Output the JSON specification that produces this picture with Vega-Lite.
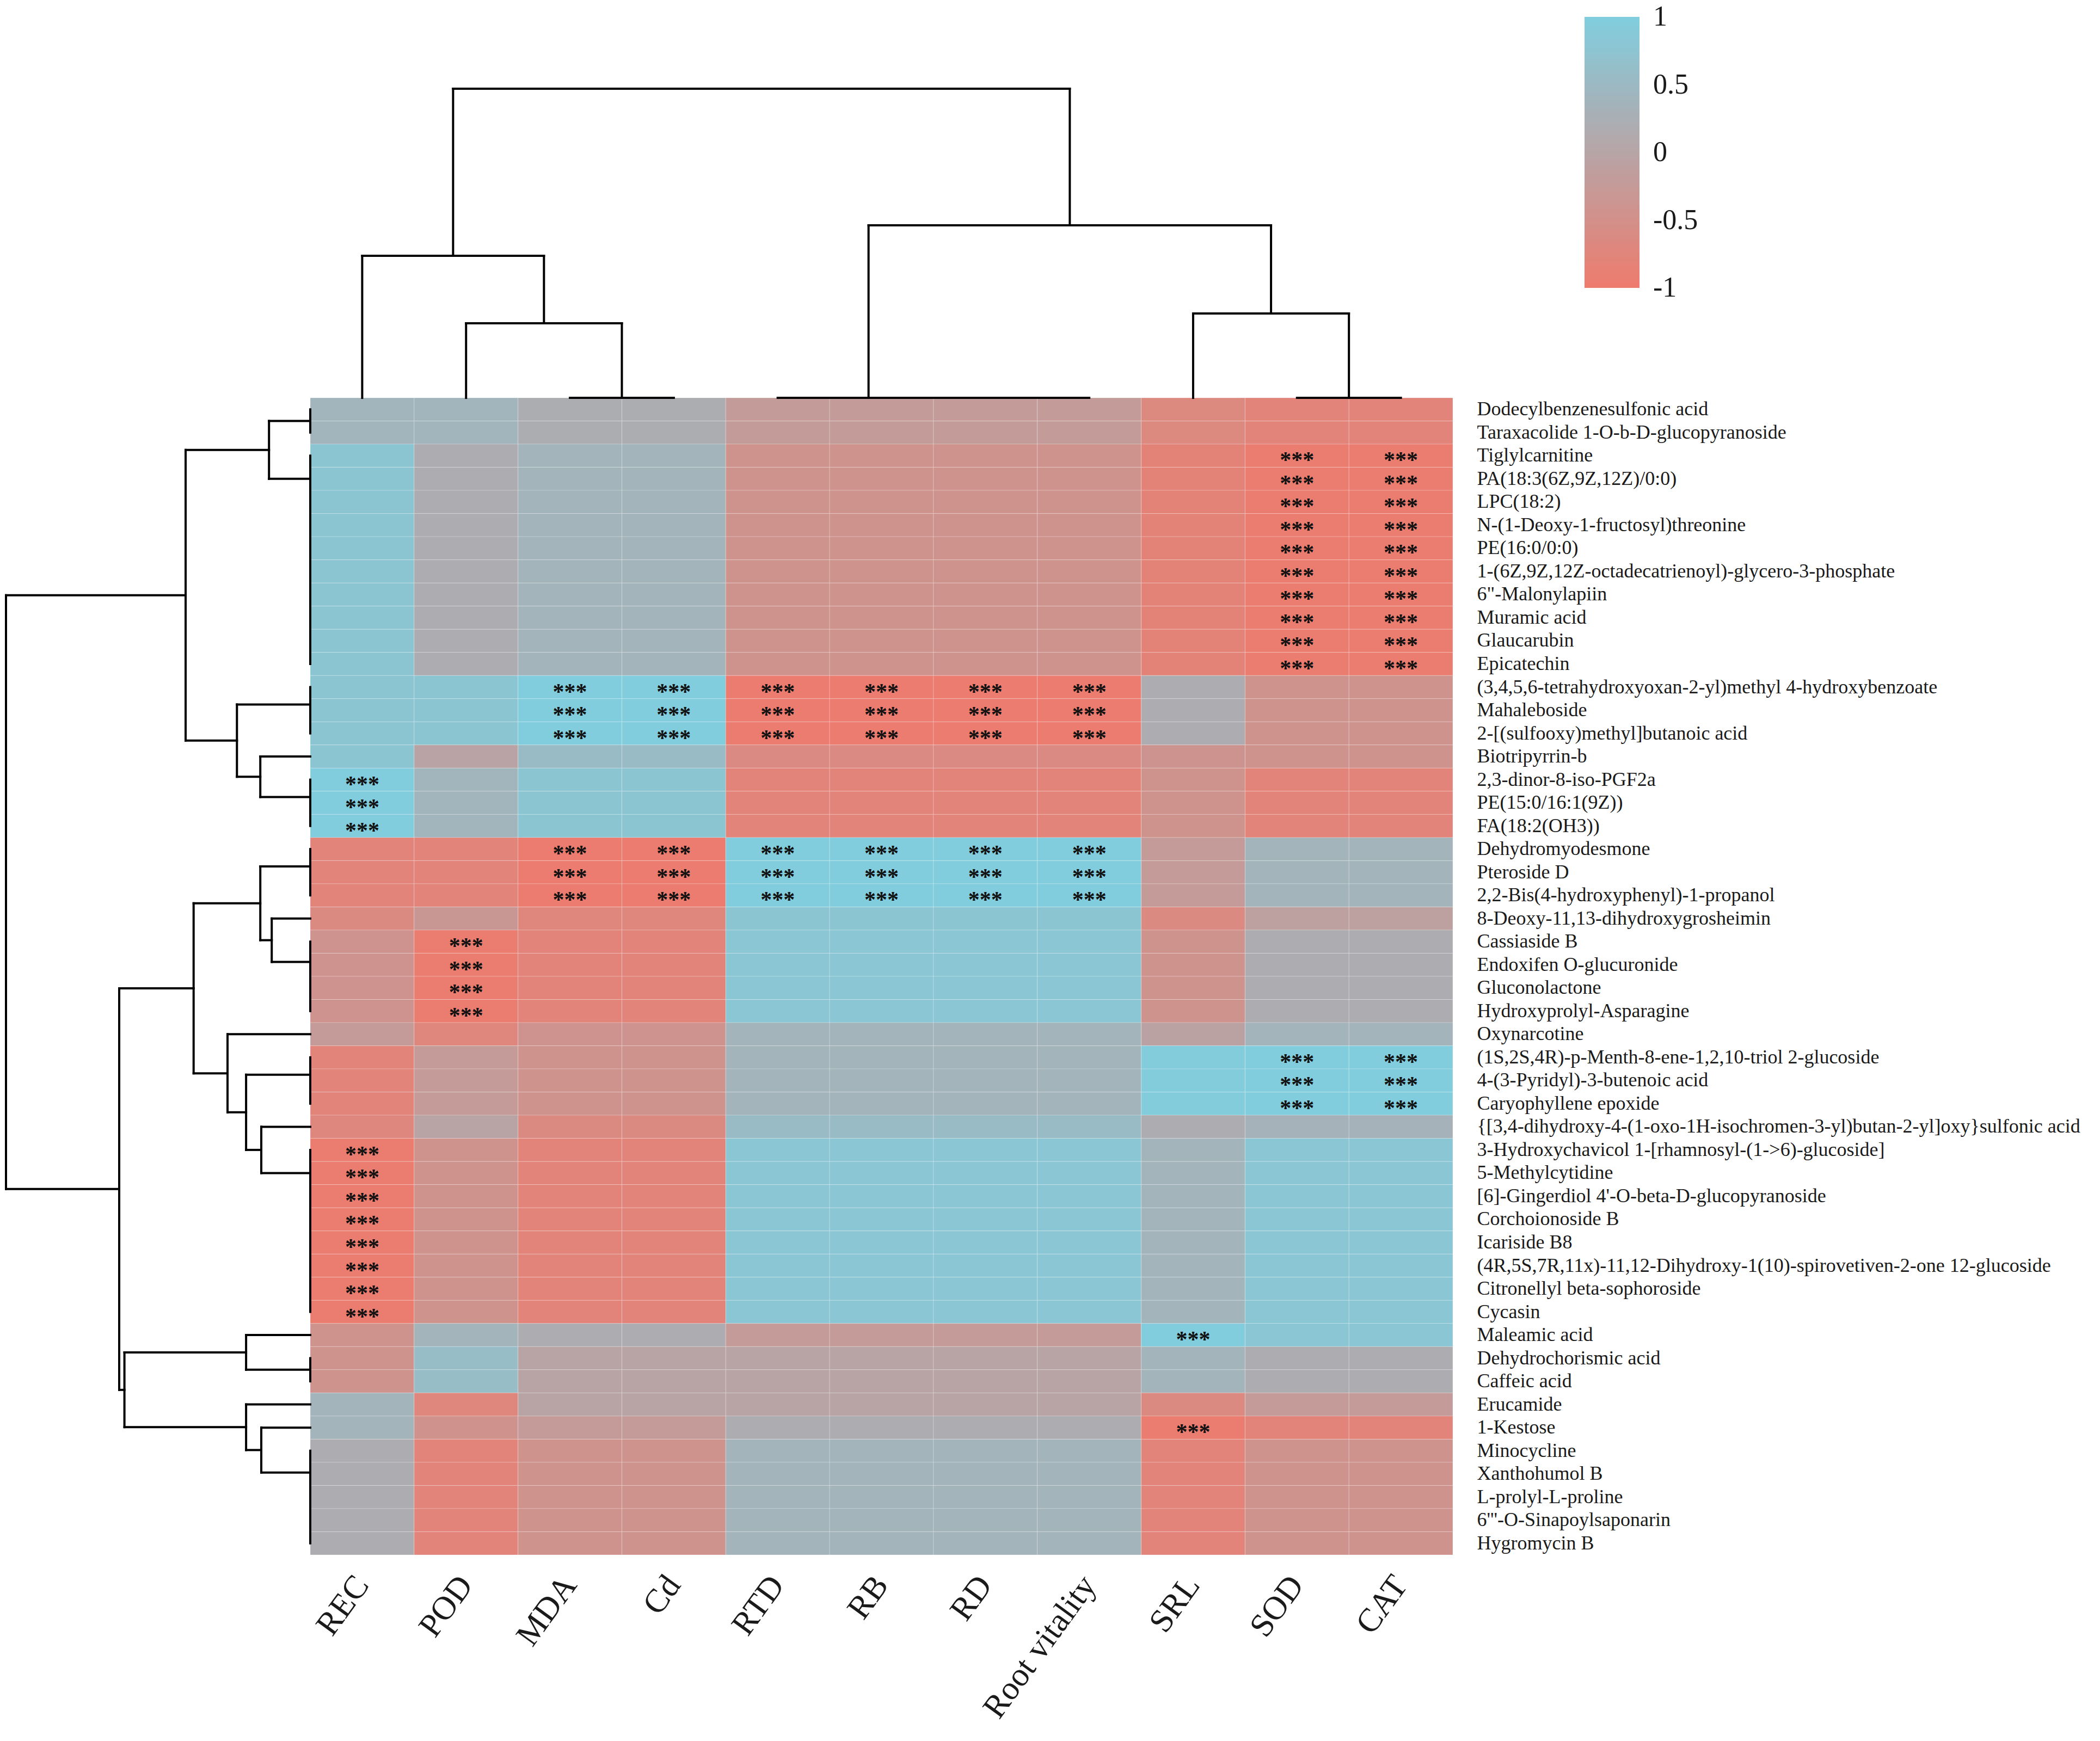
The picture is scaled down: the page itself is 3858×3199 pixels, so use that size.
{
"$schema": "https://vega.github.io/schema/vega-lite/v6.json",
"width": 2099,
"height": 2126,
"autosize": {"type": "none"},
"padding": {"left": 570, "top": 731, "right": 1189, "bottom": 342},
"background": "#ffffff",
"config": {"view": {"stroke": null}, "font": "Liberation Serif"},
"datasets": {
"cells": [
{"m":"Dodecylbenzenesulfonic acid","REC":0.38,"POD":0.38,"MDA":0.2,"Cd":0.2,"RTD":-0.22,"RB":-0.22,"RD":-0.22,"Root vitality":-0.22,"SRL":-0.67,"SOD":-0.78,"CAT":-0.78},
{"m":"Taraxacolide 1-O-b-D-glucopyranoside","REC":0.38,"POD":0.38,"MDA":0.2,"Cd":0.2,"RTD":-0.22,"RB":-0.22,"RD":-0.22,"Root vitality":-0.22,"SRL":-0.67,"SOD":-0.78,"CAT":-0.78},
{"m":"Tiglylcarnitine","REC":0.78,"POD":0.18,"MDA":0.37,"Cd":0.37,"RTD":-0.43,"RB":-0.43,"RD":-0.43,"Root vitality":-0.43,"SRL":-0.8,"SOD":-0.95,"CAT":-0.95},
{"m":"PA(18:3(6Z,9Z,12Z)/0:0)","REC":0.78,"POD":0.18,"MDA":0.37,"Cd":0.37,"RTD":-0.43,"RB":-0.43,"RD":-0.43,"Root vitality":-0.43,"SRL":-0.8,"SOD":-0.95,"CAT":-0.95},
{"m":"LPC(18:2)","REC":0.78,"POD":0.18,"MDA":0.37,"Cd":0.37,"RTD":-0.43,"RB":-0.43,"RD":-0.43,"Root vitality":-0.43,"SRL":-0.8,"SOD":-0.95,"CAT":-0.95},
{"m":"N-(1-Deoxy-1-fructosyl)threonine","REC":0.78,"POD":0.18,"MDA":0.37,"Cd":0.37,"RTD":-0.43,"RB":-0.43,"RD":-0.43,"Root vitality":-0.43,"SRL":-0.8,"SOD":-0.95,"CAT":-0.95},
{"m":"PE(16:0/0:0)","REC":0.78,"POD":0.18,"MDA":0.37,"Cd":0.37,"RTD":-0.43,"RB":-0.43,"RD":-0.43,"Root vitality":-0.43,"SRL":-0.8,"SOD":-0.95,"CAT":-0.95},
{"m":"1-(6Z,9Z,12Z-octadecatrienoyl)-glycero-3-phosphate","REC":0.78,"POD":0.18,"MDA":0.37,"Cd":0.37,"RTD":-0.43,"RB":-0.43,"RD":-0.43,"Root vitality":-0.43,"SRL":-0.8,"SOD":-0.95,"CAT":-0.95},
{"m":"6\"-Malonylapiin","REC":0.78,"POD":0.18,"MDA":0.37,"Cd":0.37,"RTD":-0.43,"RB":-0.43,"RD":-0.43,"Root vitality":-0.43,"SRL":-0.8,"SOD":-0.95,"CAT":-0.95},
{"m":"Muramic acid","REC":0.78,"POD":0.18,"MDA":0.37,"Cd":0.37,"RTD":-0.43,"RB":-0.43,"RD":-0.43,"Root vitality":-0.43,"SRL":-0.8,"SOD":-0.95,"CAT":-0.95},
{"m":"Glaucarubin","REC":0.78,"POD":0.18,"MDA":0.37,"Cd":0.37,"RTD":-0.43,"RB":-0.43,"RD":-0.43,"Root vitality":-0.43,"SRL":-0.8,"SOD":-0.95,"CAT":-0.95},
{"m":"Epicatechin","REC":0.78,"POD":0.18,"MDA":0.37,"Cd":0.37,"RTD":-0.43,"RB":-0.43,"RD":-0.43,"Root vitality":-0.43,"SRL":-0.8,"SOD":-0.95,"CAT":-0.95},
{"m":"(3,4,5,6-tetrahydroxyoxan-2-yl)methyl 4-hydroxybenzoate","REC":0.78,"POD":0.78,"MDA":0.97,"Cd":0.97,"RTD":-0.97,"RB":-0.97,"RD":-0.97,"Root vitality":-0.97,"SRL":0.18,"SOD":-0.43,"CAT":-0.43},
{"m":"Mahaleboside","REC":0.78,"POD":0.78,"MDA":0.97,"Cd":0.97,"RTD":-0.97,"RB":-0.97,"RD":-0.97,"Root vitality":-0.97,"SRL":0.18,"SOD":-0.43,"CAT":-0.43},
{"m":"2-[(sulfooxy)methyl]butanoic acid","REC":0.78,"POD":0.78,"MDA":0.97,"Cd":0.97,"RTD":-0.97,"RB":-0.97,"RD":-0.97,"Root vitality":-0.97,"SRL":0.18,"SOD":-0.43,"CAT":-0.43},
{"m":"Biotripyrrin-b","REC":0.78,"POD":-0.03,"MDA":0.55,"Cd":0.55,"RTD":-0.63,"RB":-0.63,"RD":-0.63,"Root vitality":-0.63,"SRL":-0.4,"SOD":-0.43,"CAT":-0.43},
{"m":"2,3-dinor-8-iso-PGF2a","REC":0.97,"POD":0.38,"MDA":0.78,"Cd":0.78,"RTD":-0.78,"RB":-0.78,"RD":-0.78,"Root vitality":-0.78,"SRL":-0.43,"SOD":-0.78,"CAT":-0.78},
{"m":"PE(15:0/16:1(9Z))","REC":0.97,"POD":0.38,"MDA":0.78,"Cd":0.78,"RTD":-0.78,"RB":-0.78,"RD":-0.78,"Root vitality":-0.78,"SRL":-0.43,"SOD":-0.78,"CAT":-0.78},
{"m":"FA(18:2(OH3))","REC":0.97,"POD":0.38,"MDA":0.78,"Cd":0.78,"RTD":-0.78,"RB":-0.78,"RD":-0.78,"Root vitality":-0.78,"SRL":-0.43,"SOD":-0.78,"CAT":-0.78},
{"m":"Dehydromyodesmone","REC":-0.78,"POD":-0.78,"MDA":-0.97,"Cd":-0.97,"RTD":0.97,"RB":0.97,"RD":0.97,"Root vitality":0.97,"SRL":-0.24,"SOD":0.37,"CAT":0.37},
{"m":"Pteroside D","REC":-0.78,"POD":-0.78,"MDA":-0.97,"Cd":-0.97,"RTD":0.97,"RB":0.97,"RD":0.97,"Root vitality":0.97,"SRL":-0.24,"SOD":0.37,"CAT":0.37},
{"m":"2,2-Bis(4-hydroxyphenyl)-1-propanol","REC":-0.78,"POD":-0.78,"MDA":-0.97,"Cd":-0.97,"RTD":0.97,"RB":0.97,"RD":0.97,"Root vitality":0.97,"SRL":-0.24,"SOD":0.37,"CAT":0.37},
{"m":"8-Deoxy-11,13-dihydroxygrosheimin","REC":-0.65,"POD":-0.33,"MDA":-0.72,"Cd":-0.72,"RTD":0.78,"RB":0.78,"RD":0.78,"Root vitality":0.78,"SRL":-0.65,"SOD":-0.1,"CAT":-0.1},
{"m":"Cassiaside B","REC":-0.42,"POD":-0.95,"MDA":-0.78,"Cd":-0.78,"RTD":0.8,"RB":0.8,"RD":0.8,"Root vitality":0.8,"SRL":-0.43,"SOD":0.18,"CAT":0.18},
{"m":"Endoxifen O-glucuronide","REC":-0.42,"POD":-0.95,"MDA":-0.78,"Cd":-0.78,"RTD":0.8,"RB":0.8,"RD":0.8,"Root vitality":0.8,"SRL":-0.43,"SOD":0.18,"CAT":0.18},
{"m":"Gluconolactone","REC":-0.42,"POD":-0.95,"MDA":-0.78,"Cd":-0.78,"RTD":0.8,"RB":0.8,"RD":0.8,"Root vitality":0.8,"SRL":-0.43,"SOD":0.18,"CAT":0.18},
{"m":"Hydroxyprolyl-Asparagine","REC":-0.42,"POD":-0.95,"MDA":-0.78,"Cd":-0.78,"RTD":0.8,"RB":0.8,"RD":0.8,"Root vitality":0.8,"SRL":-0.43,"SOD":0.18,"CAT":0.18},
{"m":"Oxynarcotine","REC":-0.24,"POD":-0.72,"MDA":-0.42,"Cd":-0.42,"RTD":0.37,"RB":0.37,"RD":0.37,"Root vitality":0.37,"SRL":-0.05,"SOD":0.37,"CAT":0.37},
{"m":"(1S,2S,4R)-p-Menth-8-ene-1,2,10-triol 2-glucoside","REC":-0.78,"POD":-0.24,"MDA":-0.43,"Cd":-0.43,"RTD":0.37,"RB":0.37,"RD":0.37,"Root vitality":0.37,"SRL":0.95,"SOD":0.97,"CAT":0.97},
{"m":"4-(3-Pyridyl)-3-butenoic acid","REC":-0.78,"POD":-0.24,"MDA":-0.43,"Cd":-0.43,"RTD":0.37,"RB":0.37,"RD":0.37,"Root vitality":0.37,"SRL":0.95,"SOD":0.97,"CAT":0.97},
{"m":"Caryophyllene epoxide","REC":-0.78,"POD":-0.24,"MDA":-0.43,"Cd":-0.43,"RTD":0.37,"RB":0.37,"RD":0.37,"Root vitality":0.37,"SRL":0.95,"SOD":0.97,"CAT":0.97},
{"m":"{[3,4-dihydroxy-4-(1-oxo-1H-isochromen-3-yl)butan-2-yl]oxy}sulfonic acid","REC":-0.7,"POD":-0.02,"MDA":-0.65,"Cd":-0.65,"RTD":0.55,"RB":0.55,"RD":0.55,"Root vitality":0.55,"SRL":0.18,"SOD":0.33,"CAT":0.33},
{"m":"3-Hydroxychavicol 1-[rhamnosyl-(1->6)-glucoside]","REC":-0.95,"POD":-0.43,"MDA":-0.78,"Cd":-0.78,"RTD":0.8,"RB":0.8,"RD":0.8,"Root vitality":0.8,"SRL":0.37,"SOD":0.8,"CAT":0.8},
{"m":"5-Methylcytidine","REC":-0.95,"POD":-0.43,"MDA":-0.78,"Cd":-0.78,"RTD":0.8,"RB":0.8,"RD":0.8,"Root vitality":0.8,"SRL":0.37,"SOD":0.8,"CAT":0.8},
{"m":"[6]-Gingerdiol 4'-O-beta-D-glucopyranoside","REC":-0.95,"POD":-0.43,"MDA":-0.78,"Cd":-0.78,"RTD":0.8,"RB":0.8,"RD":0.8,"Root vitality":0.8,"SRL":0.37,"SOD":0.8,"CAT":0.8},
{"m":"Corchoionoside B","REC":-0.95,"POD":-0.43,"MDA":-0.78,"Cd":-0.78,"RTD":0.8,"RB":0.8,"RD":0.8,"Root vitality":0.8,"SRL":0.37,"SOD":0.8,"CAT":0.8},
{"m":"Icariside B8","REC":-0.95,"POD":-0.43,"MDA":-0.78,"Cd":-0.78,"RTD":0.8,"RB":0.8,"RD":0.8,"Root vitality":0.8,"SRL":0.37,"SOD":0.8,"CAT":0.8},
{"m":"(4R,5S,7R,11x)-11,12-Dihydroxy-1(10)-spirovetiven-2-one 12-glucoside","REC":-0.95,"POD":-0.43,"MDA":-0.78,"Cd":-0.78,"RTD":0.8,"RB":0.8,"RD":0.8,"Root vitality":0.8,"SRL":0.37,"SOD":0.8,"CAT":0.8},
{"m":"Citronellyl beta-sophoroside","REC":-0.95,"POD":-0.43,"MDA":-0.78,"Cd":-0.78,"RTD":0.8,"RB":0.8,"RD":0.8,"Root vitality":0.8,"SRL":0.37,"SOD":0.8,"CAT":0.8},
{"m":"Cycasin","REC":-0.95,"POD":-0.43,"MDA":-0.78,"Cd":-0.78,"RTD":0.8,"RB":0.8,"RD":0.8,"Root vitality":0.8,"SRL":0.37,"SOD":0.8,"CAT":0.8},
{"m":"Maleamic acid","REC":-0.43,"POD":0.37,"MDA":0.18,"Cd":0.18,"RTD":-0.24,"RB":-0.24,"RD":-0.24,"Root vitality":-0.24,"SRL":0.97,"SOD":0.8,"CAT":0.8},
{"m":"Dehydrochorismic acid","REC":-0.43,"POD":0.58,"MDA":-0.02,"Cd":-0.02,"RTD":-0.02,"RB":-0.02,"RD":-0.02,"Root vitality":-0.02,"SRL":0.37,"SOD":0.18,"CAT":0.18},
{"m":"Caffeic acid","REC":-0.43,"POD":0.58,"MDA":-0.02,"Cd":-0.02,"RTD":-0.02,"RB":-0.02,"RD":-0.02,"Root vitality":-0.02,"SRL":0.37,"SOD":0.18,"CAT":0.18},
{"m":"Erucamide","REC":0.37,"POD":-0.72,"MDA":-0.02,"Cd":-0.02,"RTD":-0.02,"RB":-0.02,"RD":-0.02,"Root vitality":-0.02,"SRL":-0.65,"SOD":-0.24,"CAT":-0.24},
{"m":"1-Kestose","REC":0.37,"POD":-0.45,"MDA":-0.24,"Cd":-0.24,"RTD":0.18,"RB":0.18,"RD":0.18,"Root vitality":0.18,"SRL":-0.95,"SOD":-0.78,"CAT":-0.78},
{"m":"Minocycline","REC":0.18,"POD":-0.78,"MDA":-0.43,"Cd":-0.43,"RTD":0.37,"RB":0.37,"RD":0.37,"Root vitality":0.37,"SRL":-0.78,"SOD":-0.43,"CAT":-0.43},
{"m":"Xanthohumol B","REC":0.18,"POD":-0.78,"MDA":-0.43,"Cd":-0.43,"RTD":0.37,"RB":0.37,"RD":0.37,"Root vitality":0.37,"SRL":-0.78,"SOD":-0.43,"CAT":-0.43},
{"m":"L-prolyl-L-proline","REC":0.18,"POD":-0.78,"MDA":-0.43,"Cd":-0.43,"RTD":0.37,"RB":0.37,"RD":0.37,"Root vitality":0.37,"SRL":-0.78,"SOD":-0.43,"CAT":-0.43},
{"m":"6'''-O-Sinapoylsaponarin","REC":0.18,"POD":-0.78,"MDA":-0.43,"Cd":-0.43,"RTD":0.37,"RB":0.37,"RD":0.37,"Root vitality":0.37,"SRL":-0.78,"SOD":-0.43,"CAT":-0.43},
{"m":"Hygromycin B","REC":0.18,"POD":-0.78,"MDA":-0.43,"Cd":-0.43,"RTD":0.37,"RB":0.37,"RD":0.37,"Root vitality":0.37,"SRL":-0.78,"SOD":-0.43,"CAT":-0.43}
],
"sig": [
{"m":"Tiglylcarnitine","p":["SOD","CAT"],"s":"***"},
{"m":"PA(18:3(6Z,9Z,12Z)/0:0)","p":["SOD","CAT"],"s":"***"},
{"m":"LPC(18:2)","p":["SOD","CAT"],"s":"***"},
{"m":"N-(1-Deoxy-1-fructosyl)threonine","p":["SOD","CAT"],"s":"***"},
{"m":"PE(16:0/0:0)","p":["SOD","CAT"],"s":"***"},
{"m":"1-(6Z,9Z,12Z-octadecatrienoyl)-glycero-3-phosphate","p":["SOD","CAT"],"s":"***"},
{"m":"6\"-Malonylapiin","p":["SOD","CAT"],"s":"***"},
{"m":"Muramic acid","p":["SOD","CAT"],"s":"***"},
{"m":"Glaucarubin","p":["SOD","CAT"],"s":"***"},
{"m":"Epicatechin","p":["SOD","CAT"],"s":"***"},
{"m":"(3,4,5,6-tetrahydroxyoxan-2-yl)methyl 4-hydroxybenzoate","p":["MDA","Cd","RTD","RB","RD","Root vitality"],"s":"***"},
{"m":"Mahaleboside","p":["MDA","Cd","RTD","RB","RD","Root vitality"],"s":"***"},
{"m":"2-[(sulfooxy)methyl]butanoic acid","p":["MDA","Cd","RTD","RB","RD","Root vitality"],"s":"***"},
{"m":"2,3-dinor-8-iso-PGF2a","p":["REC"],"s":"***"},
{"m":"PE(15:0/16:1(9Z))","p":["REC"],"s":"***"},
{"m":"FA(18:2(OH3))","p":["REC"],"s":"***"},
{"m":"Dehydromyodesmone","p":["MDA","Cd","RTD","RB","RD","Root vitality"],"s":"***"},
{"m":"Pteroside D","p":["MDA","Cd","RTD","RB","RD","Root vitality"],"s":"***"},
{"m":"2,2-Bis(4-hydroxyphenyl)-1-propanol","p":["MDA","Cd","RTD","RB","RD","Root vitality"],"s":"***"},
{"m":"Cassiaside B","p":["POD"],"s":"***"},
{"m":"Endoxifen O-glucuronide","p":["POD"],"s":"***"},
{"m":"Gluconolactone","p":["POD"],"s":"***"},
{"m":"Hydroxyprolyl-Asparagine","p":["POD"],"s":"***"},
{"m":"(1S,2S,4R)-p-Menth-8-ene-1,2,10-triol 2-glucoside","p":["SOD","CAT"],"s":"***"},
{"m":"4-(3-Pyridyl)-3-butenoic acid","p":["SOD","CAT"],"s":"***"},
{"m":"Caryophyllene epoxide","p":["SOD","CAT"],"s":"***"},
{"m":"3-Hydroxychavicol 1-[rhamnosyl-(1->6)-glucoside]","p":["REC"],"s":"***"},
{"m":"5-Methylcytidine","p":["REC"],"s":"***"},
{"m":"[6]-Gingerdiol 4'-O-beta-D-glucopyranoside","p":["REC"],"s":"***"},
{"m":"Corchoionoside B","p":["REC"],"s":"***"},
{"m":"Icariside B8","p":["REC"],"s":"***"},
{"m":"(4R,5S,7R,11x)-11,12-Dihydroxy-1(10)-spirovetiven-2-one 12-glucoside","p":["REC"],"s":"***"},
{"m":"Citronellyl beta-sophoroside","p":["REC"],"s":"***"},
{"m":"Cycasin","p":["REC"],"s":"***"},
{"m":"Maleamic acid","p":["SRL"],"s":"***"},
{"m":"1-Kestose","p":["SRL"],"s":"***"}
],
"treeTop": [
{"a":3,"b":4,"h":0,"h2":0},
{"a":2,"b":2,"h":0,"h2":137},
{"a":3.5,"b":3.5,"h":0,"h2":137},
{"a":2,"b":3.5,"h":137,"h2":137},
{"a":1,"b":1,"h":0,"h2":261},
{"a":2.75,"b":2.75,"h":137,"h2":261},
{"a":1,"b":2.75,"h":261,"h2":261},
{"a":5,"b":8,"h":0,"h2":0},
{"a":10,"b":11,"h":0,"h2":0},
{"a":9,"b":9,"h":0,"h2":155},
{"a":10.5,"b":10.5,"h":0,"h2":155},
{"a":9,"b":10.5,"h":155,"h2":155},
{"a":5.875,"b":5.875,"h":0,"h2":317},
{"a":9.75,"b":9.75,"h":155,"h2":317},
{"a":5.875,"b":9.75,"h":317,"h2":317},
{"a":1.875,"b":1.875,"h":261,"h2":568},
{"a":7.8125,"b":7.8125,"h":317,"h2":568},
{"a":1.875,"b":7.8125,"h":568,"h2":568}
],
"treeLeft": [
{"r":1,"r2":2,"d":0,"d2":0},
{"r":3,"r2":12,"d":0,"d2":0},
{"r":13,"r2":15,"d":0,"d2":0},
{"r":17,"r2":19,"d":0,"d2":0},
{"r":20,"r2":22,"d":0,"d2":0},
{"r":24,"r2":27,"d":0,"d2":0},
{"r":29,"r2":31,"d":0,"d2":0},
{"r":33,"r2":40,"d":0,"d2":0},
{"r":42,"r2":43,"d":0,"d2":0},
{"r":46,"r2":50,"d":0,"d2":0},
{"r":1.5,"r2":1.5,"d":0,"d2":75.8},
{"r":4,"r2":4,"d":0,"d2":75.8},
{"r":1.5,"r2":4,"d":75.8,"d2":75.8},
{"r":16,"r2":16,"d":0,"d2":91.8},
{"r":17.75,"r2":17.75,"d":0,"d2":91.8},
{"r":16,"r2":17.75,"d":91.8,"d2":91.8},
{"r":13.75,"r2":13.75,"d":0,"d2":134.7},
{"r":16.875,"r2":16.875,"d":91.8,"d2":134.7},
{"r":13.75,"r2":16.875,"d":134.7,"d2":134.7},
{"r":2.75,"r2":2.75,"d":75.8,"d2":229},
{"r":15.3125,"r2":15.3125,"d":134.7,"d2":229},
{"r":2.75,"r2":15.3125,"d":229,"d2":229},
{"r":23,"r2":23,"d":0,"d2":70.8},
{"r":24.875,"r2":24.875,"d":0,"d2":70.8},
{"r":23,"r2":24.875,"d":70.8,"d2":70.8},
{"r":20.75,"r2":20.75,"d":0,"d2":91.8},
{"r":23.9375,"r2":23.9375,"d":70.8,"d2":91.8},
{"r":20.75,"r2":23.9375,"d":91.8,"d2":91.8},
{"r":32,"r2":32,"d":0,"d2":90},
{"r":34,"r2":34,"d":0,"d2":90},
{"r":32,"r2":34,"d":90,"d2":90},
{"r":29.75,"r2":29.75,"d":0,"d2":117.9},
{"r":33,"r2":33,"d":90,"d2":117.9},
{"r":29.75,"r2":33,"d":117.9,"d2":117.9},
{"r":28,"r2":28,"d":0,"d2":152},
{"r":31.375,"r2":31.375,"d":117.9,"d2":152},
{"r":28,"r2":31.375,"d":152,"d2":152},
{"r":22.34,"r2":22.34,"d":91.8,"d2":214.3},
{"r":29.69,"r2":29.69,"d":152,"d2":214.3},
{"r":22.34,"r2":29.69,"d":214.3,"d2":214.3},
{"r":41,"r2":41,"d":0,"d2":117.9},
{"r":42.5,"r2":42.5,"d":0,"d2":117.9},
{"r":41,"r2":42.5,"d":117.9,"d2":117.9},
{"r":45,"r2":45,"d":0,"d2":90},
{"r":46.94,"r2":46.94,"d":0,"d2":90},
{"r":45,"r2":46.94,"d":90,"d2":90},
{"r":44,"r2":44,"d":0,"d2":117.9},
{"r":45.97,"r2":45.97,"d":90,"d2":117.9},
{"r":44,"r2":45.97,"d":117.9,"d2":117.9},
{"r":41.75,"r2":41.75,"d":117.9,"d2":341.4},
{"r":44.98,"r2":44.98,"d":117.9,"d2":341.4},
{"r":41.75,"r2":44.98,"d":341.4,"d2":341.4},
{"r":26.02,"r2":26.02,"d":214.3,"d2":351},
{"r":43.37,"r2":43.37,"d":341.4,"d2":351},
{"r":26.02,"r2":43.37,"d":351,"d2":351},
{"r":9.03,"r2":9.03,"d":229,"d2":559},
{"r":34.69,"r2":34.69,"d":351,"d2":559},
{"r":9.03,"r2":34.69,"d":559,"d2":559}
]
},
"layer": [
{
"layer": [
{
"data": {"name": "cells"},
"transform": [{"fold": ["REC","POD","MDA","Cd","RTD","RB","RD","Root vitality","SRL","SOD","CAT"], "as": ["p","v"]}],
"mark": {"type": "rect", "stroke": "#ffffff", "strokeWidth": 1, "strokeOpacity": 0.25},
"encoding": {
"x": {"field": "p", "type": "nominal",
"scale": {"domain": ["REC","POD","MDA","Cd","RTD","RB","RD","Root vitality","SRL","SOD","CAT"], "padding": 0},
"axis": {"orient": "bottom", "title": null, "ticks": false, "domain": false, "labelAngle": -54, "labelAlign": "right", "labelBaseline": "middle", "labelFontSize": 61, "labelFont": "Liberation Serif", "labelColor": "#1a1a1a", "labelPadding": 45, "labelLimit": 1000}},
"y": {"field": "m", "type": "nominal",
"scale": {"domain": ["Dodecylbenzenesulfonic acid","Taraxacolide 1-O-b-D-glucopyranoside","Tiglylcarnitine","PA(18:3(6Z,9Z,12Z)/0:0)","LPC(18:2)","N-(1-Deoxy-1-fructosyl)threonine","PE(16:0/0:0)","1-(6Z,9Z,12Z-octadecatrienoyl)-glycero-3-phosphate","6\"-Malonylapiin","Muramic acid","Glaucarubin","Epicatechin","(3,4,5,6-tetrahydroxyoxan-2-yl)methyl 4-hydroxybenzoate","Mahaleboside","2-[(sulfooxy)methyl]butanoic acid","Biotripyrrin-b","2,3-dinor-8-iso-PGF2a","PE(15:0/16:1(9Z))","FA(18:2(OH3))","Dehydromyodesmone","Pteroside D","2,2-Bis(4-hydroxyphenyl)-1-propanol","8-Deoxy-11,13-dihydroxygrosheimin","Cassiaside B","Endoxifen O-glucuronide","Gluconolactone","Hydroxyprolyl-Asparagine","Oxynarcotine","(1S,2S,4R)-p-Menth-8-ene-1,2,10-triol 2-glucoside","4-(3-Pyridyl)-3-butenoic acid","Caryophyllene epoxide","{[3,4-dihydroxy-4-(1-oxo-1H-isochromen-3-yl)butan-2-yl]oxy}sulfonic acid","3-Hydroxychavicol 1-[rhamnosyl-(1->6)-glucoside]","5-Methylcytidine","[6]-Gingerdiol 4'-O-beta-D-glucopyranoside","Corchoionoside B","Icariside B8","(4R,5S,7R,11x)-11,12-Dihydroxy-1(10)-spirovetiven-2-one 12-glucoside","Citronellyl beta-sophoroside","Cycasin","Maleamic acid","Dehydrochorismic acid","Caffeic acid","Erucamide","1-Kestose","Minocycline","Xanthohumol B","L-prolyl-L-proline","6'''-O-Sinapoylsaponarin","Hygromycin B"], "padding": 0},
"axis": {"orient": "right", "title": null, "ticks": false, "domain": false, "labelFontSize": 36, "labelFont": "Liberation Serif", "labelColor": "#1a1a1a", "labelPadding": 44, "labelLimit": 3000}},
"color": {"field": "v", "type": "quantitative",
"scale": {"domain": [-1, 1], "range": ["#EE7B6D", "#80CEDF"], "interpolate": "rgb"},
"legend": {"orient": "none", "legendX": 2341, "legendY": -700, "title": null, "direction": "vertical", "gradientLength": 498, "gradientThickness": 101, "gradientStrokeWidth": 0, "labelFontSize": 52, "labelOffset": 25, "labelFont": "Liberation Serif", "labelColor": "#1a1a1a", "values": [-1, -0.5, 0, 0.5, 1], "labelExpr": "'' + datum.value", "labelOverlap": false, "padding": 0, "labelBaseline": "middle",
"encode": {"labels": {"enter": {"baseline": {"value": "middle"}}, "update": {"baseline": {"value": "middle"}}}}}}
}
},
{
"data": {"name": "sig"},
"transform": [{"flatten": ["p"]}],
"mark": {"type": "text", "fontSize": 42, "fontWeight": "bold", "font": "Liberation Serif", "color": "#111111", "baseline": "middle", "dy": 9},
"encoding": {
"x": {"field": "p", "type": "nominal", "scale": {"domain": ["REC","POD","MDA","Cd","RTD","RB","RD","Root vitality","SRL","SOD","CAT"], "padding": 0}},
"y": {"field": "m", "type": "nominal", "scale": {"domain": ["Dodecylbenzenesulfonic acid","Taraxacolide 1-O-b-D-glucopyranoside","Tiglylcarnitine","PA(18:3(6Z,9Z,12Z)/0:0)","LPC(18:2)","N-(1-Deoxy-1-fructosyl)threonine","PE(16:0/0:0)","1-(6Z,9Z,12Z-octadecatrienoyl)-glycero-3-phosphate","6\"-Malonylapiin","Muramic acid","Glaucarubin","Epicatechin","(3,4,5,6-tetrahydroxyoxan-2-yl)methyl 4-hydroxybenzoate","Mahaleboside","2-[(sulfooxy)methyl]butanoic acid","Biotripyrrin-b","2,3-dinor-8-iso-PGF2a","PE(15:0/16:1(9Z))","FA(18:2(OH3))","Dehydromyodesmone","Pteroside D","2,2-Bis(4-hydroxyphenyl)-1-propanol","8-Deoxy-11,13-dihydroxygrosheimin","Cassiaside B","Endoxifen O-glucuronide","Gluconolactone","Hydroxyprolyl-Asparagine","Oxynarcotine","(1S,2S,4R)-p-Menth-8-ene-1,2,10-triol 2-glucoside","4-(3-Pyridyl)-3-butenoic acid","Caryophyllene epoxide","{[3,4-dihydroxy-4-(1-oxo-1H-isochromen-3-yl)butan-2-yl]oxy}sulfonic acid","3-Hydroxychavicol 1-[rhamnosyl-(1->6)-glucoside]","5-Methylcytidine","[6]-Gingerdiol 4'-O-beta-D-glucopyranoside","Corchoionoside B","Icariside B8","(4R,5S,7R,11x)-11,12-Dihydroxy-1(10)-spirovetiven-2-one 12-glucoside","Citronellyl beta-sophoroside","Cycasin","Maleamic acid","Dehydrochorismic acid","Caffeic acid","Erucamide","1-Kestose","Minocycline","Xanthohumol B","L-prolyl-L-proline","6'''-O-Sinapoylsaponarin","Hygromycin B"], "padding": 0}},
"text": {"field": "s"}
}
}
]
},
{
"data": {"name": "treeTop"},
"mark": {"type": "rule", "color": "#000000", "strokeWidth": 4, "strokeCap": "square"},
"encoding": {
"x": {"field": "a", "type": "quantitative", "scale": {"domain": [0.5, 11.5]}, "axis": null},
"x2": {"field": "b"},
"y": {"field": "h", "type": "quantitative", "scale": {"domain": [0, 600], "range": [0, -600]}, "axis": null},
"y2": {"field": "h2"}
}
},
{
"data": {"name": "treeLeft"},
"mark": {"type": "rule", "color": "#000000", "strokeWidth": 4, "strokeCap": "square"},
"encoding": {
"y": {"field": "r", "type": "quantitative", "scale": {"domain": [0.5, 50.5], "reverse": true}, "axis": null},
"y2": {"field": "r2"},
"x": {"field": "d", "type": "quantitative", "scale": {"domain": [0, 600], "range": [0, -600]}, "axis": null},
"x2": {"field": "d2"}
}
}
],
"resolve": {"scale": {"x": "independent", "y": "independent"}}
}
